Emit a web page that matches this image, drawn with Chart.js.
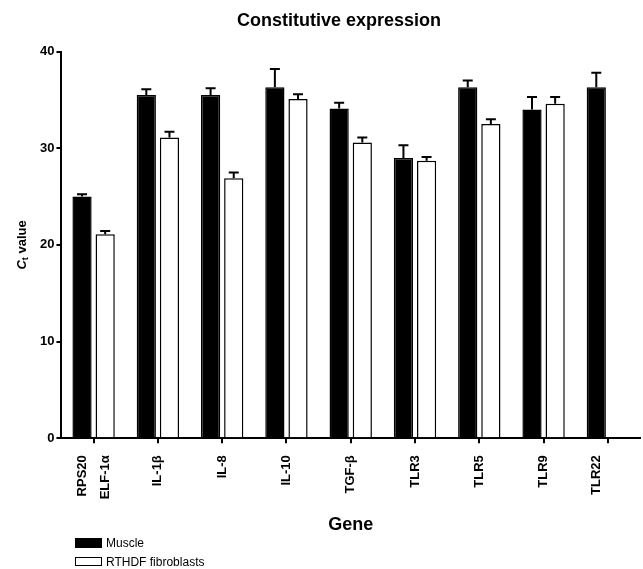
<!DOCTYPE html>
<html>
<head>
<meta charset="utf-8">
<script src="https://cdn.jsdelivr.net/npm/chart.js@4.4.1/dist/chart.umd.min.js"></script>
<style>
  body { margin: 0; background: #fff; }
  #wrap { position: relative; width: 643px; height: 569px; }
  .key { position: absolute; left: 75px; font: 12px "Liberation Sans", Arial, sans-serif; color: #000; }
  .key i { position: absolute; left: 0; width: 27px; box-sizing: border-box; border: 1.5px solid #000; }
  .key span { position: absolute; left: 31px; white-space: nowrap; }
</style>
</head>
<body>
<div id="wrap">
  <canvas id="chart" width="643" height="569"></canvas>
  <div class="key" style="top:538px"><i style="height:10px;background:#000"></i><span style="top:-2px">Muscle</span></div>
  <div class="key" style="top:557px"><i style="height:9px;background:#fff"></i><span style="top:-2px">RTHDF fibroblasts</span></div>
</div>
<script>
// group labels (first group holds the two reference genes, drawn under their own bars)
const categories = ['RPS20', 'IL-1β', 'IL-8', 'IL-10', 'TGF-β', 'TLR3', 'TLR5', 'TLR9', 'TLR22'];
const fibroRefGene = 'ELF-1α';

const muscle    = [25.0, 35.5, 35.5, 36.3, 34.1, 29.0, 36.3, 34.0, 36.3];
const muscleErr = [0.25, 0.6, 0.7, 1.9, 0.6, 1.3, 0.7, 1.3, 1.5];
const fibro     = [21.1, 31.1, 26.9, 35.1, 30.6, 28.7, 32.5, 34.6, null];
const fibroErr  = [0.35, 0.6, 0.6, 0.5, 0.5, 0.4, 0.5, 0.7, null];

const yTicks = [0, 10, 20, 30, 40];

const FONT = '"Liberation Sans", Arial, sans-serif';

// SEM bars, upper side only
const errorBars = {
    id: 'errorBars',
    afterDatasetsDraw(chart) {
        const ctx = chart.ctx;
        const y = chart.scales.y;
        const errs = [muscleErr, fibroErr];
        ctx.save();
        ctx.strokeStyle = '#000';
        ctx.lineWidth = 2;
        chart.data.datasets.forEach((ds, i) => {
            chart.getDatasetMeta(i).data.forEach((bar, j) => {
                const v = ds.data[j], e = errs[i][j];
                if (v == null || e == null) return;
                const top = y.getPixelForValue(v + e);
                ctx.beginPath();
                ctx.moveTo(bar.x, bar.y);
                ctx.lineTo(bar.x, top);
                ctx.moveTo(bar.x - 5, top);
                ctx.lineTo(bar.x + 5, top);
                ctx.stroke();
            });
        });
        ctx.restore();
    }
};

// labels that sit under a single bar instead of the group tick
const barLabels = {
    id: 'barLabels',
    afterDraw(chart) {
        const ctx = chart.ctx;
        const x = chart.scales.x;
        const y0 = x.top + 5 + 12;
        const items = [[0, 0, categories[0]], [1, 0, fibroRefGene], [0, 8, categories[8]]];
        ctx.save();
        ctx.font = 'bold 13px ' + FONT;
        ctx.fillStyle = '#000';
        ctx.textAlign = 'right';
        ctx.textBaseline = 'middle';
        items.forEach(([ds, idx, text]) => {
            const bar = chart.getDatasetMeta(ds).data[idx];
            ctx.save();
            ctx.translate(bar.x, y0);
            ctx.rotate(-Math.PI / 2);
            ctx.fillText(text, 0, 0);
            ctx.restore();
        });
        ctx.restore();
    }
};

// y title with italic C and subscript t
const yTitle = {
    id: 'yTitle',
    afterDraw(chart) {
        const ctx = chart.ctx;
        const a = chart.chartArea;
        ctx.save();
        ctx.translate(22, (a.top + a.bottom) / 2);
        ctx.rotate(-Math.PI / 2);
        ctx.fillStyle = '#000';
        ctx.textBaseline = 'middle';
        const big = 'bold 13px ' + FONT, small = 'bold 9px ' + FONT;
        ctx.font = 'italic ' + big;
        const wC = ctx.measureText('C').width;
        ctx.font = small;
        const wt = ctx.measureText('t').width;
        ctx.font = big;
        const wv = ctx.measureText(' value').width;
        let x = -(wC + wt + wv) / 2;
        ctx.font = 'italic ' + big;
        ctx.fillText('C', x, 0);
        x += wC;
        ctx.font = small;
        ctx.fillText('t', x, 4);
        x += wt;
        ctx.font = big;
        ctx.fillText(' value', x, 0);
        ctx.restore();
    }
};

new Chart(document.getElementById('chart'), {
    type: 'bar',
    data: {
        labels: categories,
        datasets: [
            {
                label: 'Muscle',
                data: muscle,
                backgroundColor: '#000',
                borderColor: '#000',
                borderWidth: 1.5
            },
            {
                label: 'RTHDF fibroblasts',
                data: fibro,
                backgroundColor: '#fff',
                borderColor: '#000',
                borderWidth: 1.5
            }
        ]
    },
    options: {
        responsive: false,
        animation: false,
        devicePixelRatio: 1,
        layout: { padding: { left: 38, right: 3, top: 0, bottom: 33 } },
        datasets: { bar: { categoryPercentage: 0.72, barPercentage: 0.83 } },
        plugins: {
            legend: { display: false },
            tooltip: { enabled: false },
            title: {
                display: true,
                text: 'Constitutive expression',
                color: '#000',
                font: { family: FONT, size: 18, weight: 'bold' },
                padding: { top: 10, bottom: 20 }
            }
        },
        scales: {
            x: {
                offset: true,
                border: { color: '#000', width: 2 },
                grid: { offset: false, drawOnChartArea: false, drawTicks: true, tickLength: 5, color: '#000', lineWidth: 2 },
                ticks: {
                    autoSkip: false,
                    minRotation: 90,
                    maxRotation: 90,
                    padding: 12,
                    color: (c) => (c.index === 0 || c.index === 8) ? 'rgba(0,0,0,0)' : '#000',
                    font: { family: FONT, size: 13, weight: 'bold' }
                },
                title: {
                    display: true,
                    text: 'Gene',
                    color: '#000',
                    font: { family: FONT, size: 18, weight: 'bold' },
                    padding: { top: 6, bottom: 0 }
                }
            },
            y: {
                min: 0,
                max: 40,
                afterBuildTicks: (s) => { s.ticks = yTicks.map(v => ({ value: v })); },
                border: { color: '#000', width: 2 },
                grid: { drawOnChartArea: false, drawTicks: true, tickLength: 5, color: '#000', lineWidth: 2 },
                ticks: {
                    padding: 2,
                    color: '#000',
                    font: { family: FONT, size: 13, weight: 'bold' }
                }
            }
        }
    },
    plugins: [errorBars, barLabels, yTitle]
});
</script>
</body>
</html>
